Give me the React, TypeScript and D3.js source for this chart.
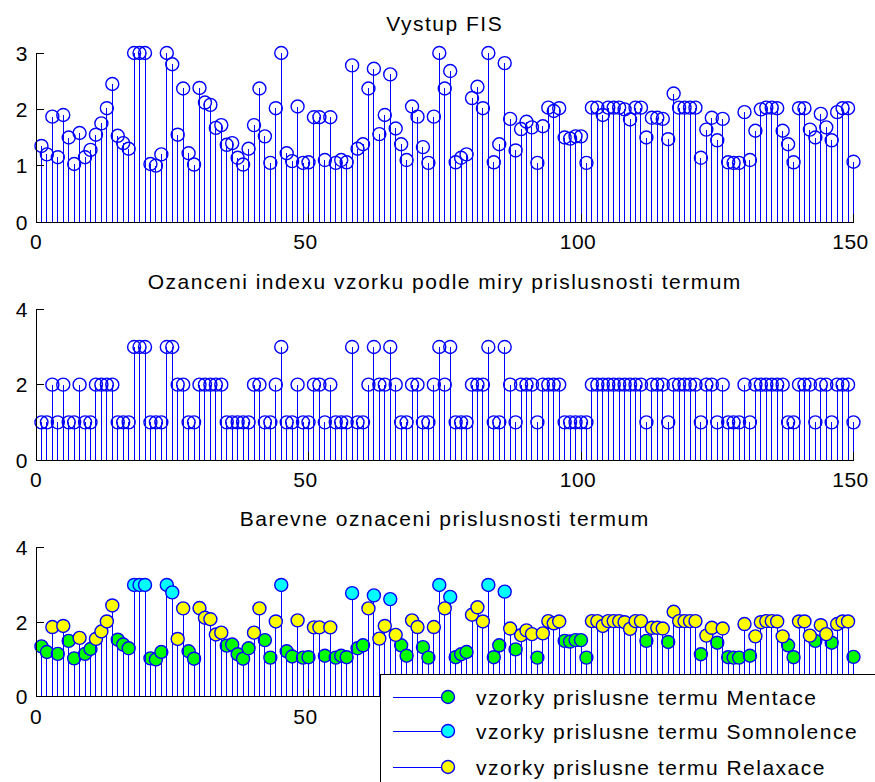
import React from "react";
import * as d3 from "d3";

// FIS output for each of the 150 samples
const fisOutput: number[] = [
  1.35, 1.2, 1.87, 1.15, 1.9, 1.5, 1.03, 1.58, 1.15, 1.28,
  1.55, 1.75, 2.02, 2.45, 1.53, 1.4, 1.3, 3.0, 3.0, 3.0,
  1.03, 1.0, 1.2, 3.0, 2.8, 1.55, 2.37, 1.22, 1.02, 2.38,
  2.12, 2.08, 1.67, 1.72, 1.37, 1.4, 1.14, 1.02, 1.3, 1.72,
  2.37, 1.52, 1.05, 2.02, 3.0, 1.22, 1.08, 2.05, 1.05, 1.06,
  1.86, 1.86, 1.1, 1.86, 1.05, 1.1, 1.06, 2.78, 1.3, 1.38,
  2.37, 2.72, 1.56, 1.9, 2.62, 1.66, 1.38, 1.1, 2.05, 1.87,
  1.33, 1.05, 1.87, 3.0, 2.37, 2.68, 1.06, 1.14, 1.2, 2.2,
  2.4, 2.02, 3.0, 1.06, 1.38, 2.82, 1.83, 1.27, 1.65, 1.78,
  1.68, 1.05, 1.7, 2.03, 1.97, 2.02, 1.5, 1.48, 1.52, 1.52,
  1.05, 2.03, 2.03, 1.9, 2.03, 2.03, 2.03, 2.0, 1.82, 2.03,
  2.03, 1.5, 1.85, 1.85, 1.83, 1.47, 2.28, 2.03, 2.03, 2.03,
  2.03, 1.14, 1.64, 1.85, 1.45, 1.83, 1.06, 1.05, 1.05, 1.95,
  1.1, 1.62, 2.0, 2.03, 2.03, 2.02, 1.62, 1.38, 1.06, 2.02,
  2.02, 1.64, 1.5, 1.92, 1.68, 1.45, 1.95, 2.02, 2.02, 1.07,
];

// Term index chosen by membership degree (1 Mentace, 2 Relaxace, 3 Somnolence)
const termIndex: number[] = [
  1, 1, 2, 1, 2, 1, 1, 2, 1, 1,
  2, 2, 2, 2, 1, 1, 1, 3, 3, 3,
  1, 1, 1, 3, 3, 2, 2, 1, 1, 2,
  2, 2, 2, 2, 1, 1, 1, 1, 1, 2,
  2, 1, 1, 2, 3, 1, 1, 2, 1, 1,
  2, 2, 1, 2, 1, 1, 1, 3, 1, 1,
  2, 3, 2, 2, 3, 2, 1, 1, 2, 2,
  1, 1, 2, 3, 2, 3, 1, 1, 1, 2,
  2, 2, 3, 1, 1, 3, 2, 1, 2, 2,
  2, 1, 2, 2, 2, 2, 1, 1, 1, 1,
  1, 2, 2, 2, 2, 2, 2, 2, 2, 2,
  2, 1, 2, 2, 2, 1, 2, 2, 2, 2,
  2, 1, 2, 2, 1, 2, 1, 1, 1, 2,
  1, 2, 2, 2, 2, 2, 2, 1, 1, 2,
  2, 2, 1, 2, 2, 1, 2, 2, 2, 1,
];

const xTicks = [0, 50, 100, 150];
const fisTicks = [0, 1, 2, 3];
const termTicks = [0, 2, 4];

const panelTitles = [
  "Vystup FIS",
  "Ozanceni indexu vzorku podle miry prislusnosti termum",
  "Barevne oznaceni prislusnosti termum",
];

// Legend order follows the plotting order of the three term series
const legendTerms = [1, 3, 2];
const termNames: Record<number, string> = {
  1: "vzorky prislusne termu Mentace",
  3: "vzorky prislusne termu Somnolence",
  2: "vzorky prislusne termu Relaxace",
};
const termColors: Record<number, string> = {
  1: "#00ff00",
  2: "#ffff00",
  3: "#00ffff",
};

const W = 875;
const H = 782;
const STEM = "#0000ff";
const FONT = "'Liberation Sans', Arial, sans-serif";
const FS = 21;
const LS = 1.5;
const R = 6.5;
const TICK = 8;

const LEGEND_X = 380;
const LEGEND_Y = 674;

const x = d3.scaleLinear().domain([0, 150]).range([36, 853.5]);

type PanelProps = {
  y: d3.ScaleLinear<number, number>;
  yTicks: number[];
  title: string;
  titleY: number;
  hideUnderLegend?: boolean;
  children: React.ReactNode;
};

function Axes({ y, yTicks, title, titleY, hideUnderLegend, children }: PanelProps) {
  const [y0, y1] = y.range();
  const [x0, x1] = x.range();
  // tick labels that would sit beneath the legend box are left out
  const labelTicks = hideUnderLegend ? xTicks.filter((t) => x(t) < LEGEND_X - 20) : xTicks;
  return (
    <g>
      <text
        x={(x0 + x1) / 2}
        y={titleY}
        textAnchor="middle"
        fontFamily={FONT}
        fontSize={FS}
        letterSpacing={LS}
        fill="#000"
      >
        {title}
      </text>
      {children}
      <g shapeRendering="crispEdges">
        <line x1={x0} x2={x1} y1={y0} y2={y0} stroke="#000" strokeWidth={1} />
        <line x1={x0} x2={x0} y1={y0} y2={y1} stroke="#000" strokeWidth={1} />
        {yTicks.map((t) => (
          <line key={"yt" + t} x1={x0} x2={x0 + TICK} y1={y(t)} y2={y(t)} stroke="#000" strokeWidth={1} />
        ))}
        {xTicks.map((t) => (
          <line key={"xt" + t} x1={x(t)} x2={x(t)} y1={y0} y2={y0 - TICK} stroke="#000" strokeWidth={1} />
        ))}
      </g>
      {yTicks.map((t) => (
        <text
          key={"yl" + t}
          x={x0 - 8}
          y={y(t)}
          dy="0.36em"
          textAnchor="end"
          fontFamily={FONT}
          fontSize={FS}
          letterSpacing={0.5}
          fill="#000"
        >
          {t}
        </text>
      ))}
      {labelTicks.map((t) => (
        <text
          key={"xl" + t}
          x={x(t) - (t === 0 ? 0 : 3)}
          y={y0 + 27}
          textAnchor="middle"
          fontFamily={FONT}
          fontSize={FS}
          letterSpacing={0.5}
          fill="#000"
        >
          {t}
        </text>
      ))}
    </g>
  );
}

function Stems({
  values,
  y,
  indices,
  fill,
}: {
  values: number[];
  y: d3.ScaleLinear<number, number>;
  indices: number[];
  fill: string;
}) {
  const base = y(0);
  return (
    <g>
      <g shapeRendering="crispEdges">
        {indices.map((i) => (
          <line
            key={"s" + i}
            x1={x(i + 1)}
            x2={x(i + 1)}
            y1={base}
            y2={y(values[i])}
            stroke={STEM}
            strokeWidth={1}
          />
        ))}
      </g>
      {indices.map((i) => (
        <circle
          key={"m" + i}
          cx={x(i + 1)}
          cy={y(values[i])}
          r={R}
          fill={fill}
          stroke={STEM}
          strokeWidth={1.4}
        />
      ))}
    </g>
  );
}

export default function App() {
  const yFis = d3.scaleLinear().domain([0, 3]).range([222, 53]);
  const yTerm = d3.scaleLinear().domain([0, 4]).range([460, 309.3]);
  const yColor = d3.scaleLinear().domain([0, 4]).range([696.7, 547.7]);
  const all = fisOutput.map((_, i) => i);

  const rowY = [697, 731, 767];

  return (
    <svg
      width={W}
      height={H}
      viewBox={`0 0 ${W} ${H}`}
      style={{ position: "absolute", left: 0, top: 0, background: "#fff" }}
    >
      <rect width={W} height={H} fill="#fff" />
      <Axes y={yFis} yTicks={fisTicks} title={panelTitles[0]} titleY={31}>
        <Stems values={fisOutput} y={yFis} indices={all} fill="none" />
      </Axes>
      <Axes y={yTerm} yTicks={termTicks} title={panelTitles[1]} titleY={289}>
        <Stems values={termIndex} y={yTerm} indices={all} fill="none" />
      </Axes>
      <Axes y={yColor} yTicks={termTicks} title={panelTitles[2]} titleY={526} hideUnderLegend>
        {legendTerms.map((term) => (
          <Stems
            key={term}
            values={fisOutput}
            y={yColor}
            indices={all.filter((i) => termIndex[i] === term)}
            fill={termColors[term]}
          />
        ))}
      </Axes>
      <g>
        <rect
          x={LEGEND_X}
          y={LEGEND_Y}
          width={W - LEGEND_X + 10}
          height={H - LEGEND_Y + 10}
          fill="#fff"
          stroke="#000"
          strokeWidth={1}
          shapeRendering="crispEdges"
        />
        {legendTerms.map((term, k) => (
          <g key={term}>
            <line
              x1={393}
              x2={448}
              y1={rowY[k]}
              y2={rowY[k]}
              stroke={STEM}
              strokeWidth={1}
              shapeRendering="crispEdges"
            />
            <circle cx={448} cy={rowY[k]} r={R} fill={termColors[term]} stroke={STEM} strokeWidth={1.4} />
            <text
              x={476}
              y={rowY[k]}
              dy="0.36em"
              fontFamily={FONT}
              fontSize={FS}
              letterSpacing={LS}
              fill="#000"
            >
              {termNames[term]}
            </text>
          </g>
        ))}
      </g>
    </svg>
  );
}
